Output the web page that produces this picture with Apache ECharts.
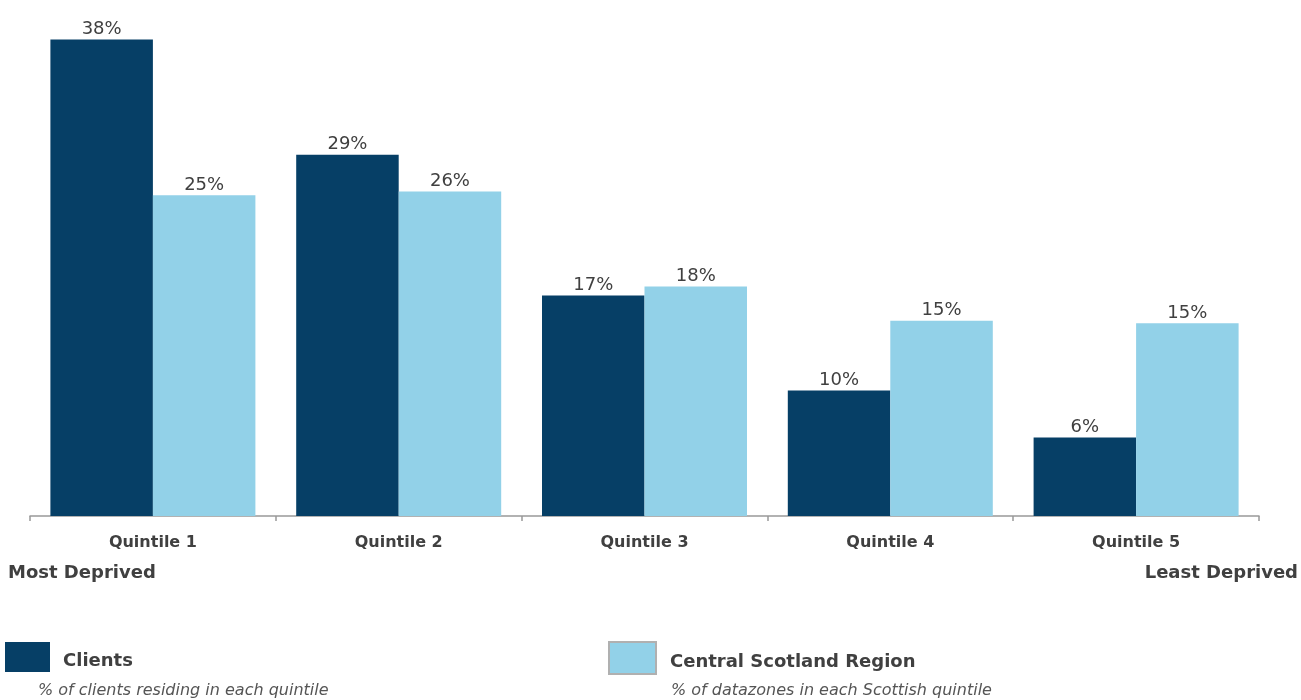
<!DOCTYPE html>
<html>
<head>
<meta charset="utf-8">
<script src="https://cdn.jsdelivr.net/npm/echarts@6/dist/echarts.min.js"></script>
<style>
html,body{margin:0;padding:0;background:#fff;}
#chart{width:1301px;height:700px;}
</style>
</head>
<body>
<div id="chart"></div>
<script>
var categories = ['Quintile 1', 'Quintile 2', 'Quintile 3', 'Quintile 4', 'Quintile 5'];
var clients = [37.6, 28.5, 17.4, 9.9, 6.2];
var region = [25.3, 25.6, 18.1, 15.4, 15.2];
var seriesNames = ['Clients', 'Central Scotland Region'];
var subtitles = ['% of clients residing in each quintile', '% of datazones in each Scottish quintile'];

var FONT = '"DejaVu Sans", Verdana, sans-serif';
var TXT = '#404040';
var chart = echarts.init(document.getElementById('chart'));
var labelOpt = {
  show: true, position: 'top', distance: 1,
  color: TXT, fontFamily: FONT, fontSize: 18,
  formatter: function (p) { return Math.round(p.value) + '%'; }
};
var legendText = function (pl) {
  return {
    color: TXT, fontFamily: FONT, fontSize: 18, fontWeight: 'bold',
    rich: { a: { color: TXT, fontFamily: FONT, fontSize: 18, fontWeight: 'bold', padding: [8, 0, 0, pl] } }
  };
};
chart.setOption({
  animation: false,
  grid: { left: 30, right: 42, top: 9, bottom: 184 },
  xAxis: {
    type: 'category', data: categories,
    axisLine: { lineStyle: { color: '#999', width: 1.5 } },
    axisTick: { show: true, length: 5, lineStyle: { color: '#999', width: 1.5 } },
    axisLabel: { color: TXT, fontFamily: FONT, fontSize: 16, fontWeight: 'bold', margin: 19 }
  },
  yAxis: { type: 'value', min: 0, max: 40, show: false, splitLine: { show: false } },
  legend: [
    { data: [seriesNames[0]], left: 5, top: 642, itemWidth: 45, itemHeight: 30, icon: 'rect',
      formatter: function (n) { return '{a|' + n + '}'; },
      textStyle: legendText(8), selectedMode: false, padding: 0 },
    { data: [seriesNames[1]], left: 608, top: 641, itemWidth: 47, itemHeight: 32, icon: 'rect',
      formatter: function (n) { return '{a|' + n + '}'; },
      textStyle: legendText(9), selectedMode: false, padding: 0,
      itemStyle: { borderColor: '#b0b0b0', borderWidth: 2 } }
  ],
  graphic: [
    { type: 'text', left: 8, top: 564, style: { text: 'Most Deprived', fill: TXT, font: 'bold 18px ' + FONT } },
    { type: 'text', right: 3, top: 564, style: { text: 'Least Deprived', fill: TXT, font: 'bold 18px ' + FONT } },
    { type: 'text', left: 38, top: 683, style: { text: subtitles[0], fill: '#555', font: 'italic 16px ' + FONT } },
    { type: 'text', left: 671, top: 683, style: { text: subtitles[1], fill: '#555', font: 'italic 16px ' + FONT } }
  ],
  series: [
    { name: seriesNames[0], type: 'bar', data: clients, barGap: '0%', barCategoryGap: '16.6%',
      itemStyle: { color: '#063F66' }, label: labelOpt },
    { name: seriesNames[1], type: 'bar', data: region, barGap: '0%', barCategoryGap: '16.6%',
      itemStyle: { color: '#92D1E8' }, label: labelOpt }
  ]
});
</script>
</body>
</html>
